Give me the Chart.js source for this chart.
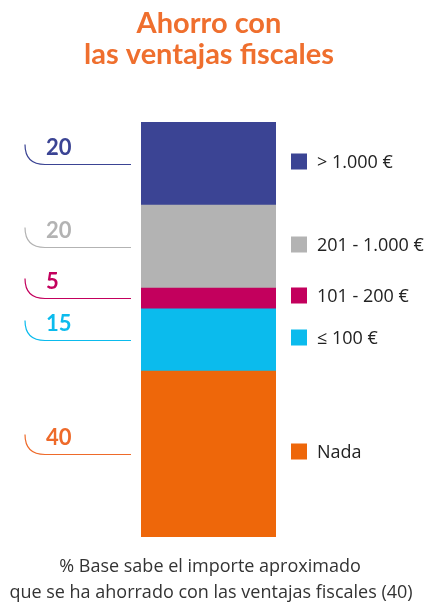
<!DOCTYPE html>
<html lang="es">
<head>
<meta charset="UTF-8">
<title>Ahorro con las ventajas fiscales</title>
<script src="https://cdn.jsdelivr.net/npm/chart.js@4"></script>
<style>
  html, body { margin: 0; padding: 0; background: #fff; }
  #wrap { width: 427px; height: 603px; position: relative; }
</style>
</head>
<body>
<div id="wrap"><canvas id="myChart" width="427" height="603"></canvas></div>
<script>
// data, bottom to top
var categories = ['Nada', '≤ 100 €', '101 - 200 €', '201 - 1.000 €', '> 1.000 €'];
var values = [40, 15, 5, 20, 20];
var colors = ['#ee670a', '#0bbbed', '#c3005d', '#b3b3b3', '#3b4494'];
var labelColors = ['#ee6a2a', '#0bbbed', '#c3005d', '#b3b3b3', '#3b4494'];
var titleLines = ['Ahorro con', 'las ventajas fiscales'];
var noteLines = ['% Base sabe el importe aproximado', 'que se ha ahorrado con las ventajas fiscales (40)'];

var datasets = [];
for (var i = 0; i < values.length; i++) {
    datasets.push({
        label: categories[i],
        data: [values[i]],
        backgroundColor: colors[i],
        borderWidth: 0,
        barPercentage: 1,
        categoryPercentage: 1
    });
}

var decorations = {
    id: 'decorations',
    afterDraw: function (chart) {
        var ctx = chart.ctx;
        var y = chart.scales.y;
        ctx.save();

        // title
        ctx.fillStyle = '#ef6f2e';
        ctx.textAlign = 'center';
        ctx.textBaseline = 'alphabetic';
        ctx.font = 'bold 29px Lato';
        ctx.fillText(titleLines[0], 209, 33);
        ctx.fillText(titleLines[1], 209, 64);

        var sum = 0;
        for (var i = 0; i < values.length; i++) {
            var lo = y.getPixelForValue(sum);
            sum += values[i];
            var hi = y.getPixelForValue(sum);
            var mid = Math.round((lo + hi) / 2) + 0.5;

            // left label with curved line
            ctx.strokeStyle = labelColors[i];
            ctx.lineWidth = 1.2;
            ctx.beginPath();
            ctx.moveTo(25, mid - 20);
            ctx.quadraticCurveTo(25, mid, 45, mid);
            ctx.lineTo(131, mid);
            ctx.stroke();

            ctx.fillStyle = labelColors[i];
            ctx.font = 'bold 22px Lato';
            ctx.textAlign = 'left';
            ctx.fillText(String(values[i]), 46, mid - 10);

            // legend on the right
            ctx.fillStyle = colors[i];
            ctx.fillRect(291, mid - 11, 16, 16);
            ctx.fillStyle = '#222';
            ctx.font = '18px "Open Sans"';
            ctx.textBaseline = 'middle';
            ctx.fillText(categories[i], 317, mid - 2);
            ctx.textBaseline = 'alphabetic';
        }

        // footnote
        ctx.fillStyle = '#333';
        ctx.textAlign = 'center';
        ctx.font = '18px "Open Sans"';
        ctx.fillText(noteLines[0], 210, 572);
        ctx.fillText(noteLines[1], 211, 598);
        ctx.restore();
    }
};

var ctx = document.getElementById('myChart').getContext('2d');
var myChart = new Chart(ctx, {
    type: 'bar',
    data: {
        labels: [''],
        datasets: datasets
    },
    options: {
        responsive: false,
        animation: false,
        layout: { padding: { left: 141, right: 151, top: 122, bottom: 66 } },
        plugins: {
            legend: { display: false },
            tooltip: { enabled: false }
        },
        scales: {
            x: { stacked: true, display: false },
            y: { stacked: true, display: false, min: 0, max: 100 }
        }
    },
    plugins: [decorations]
});
</script>
</body>
</html>
